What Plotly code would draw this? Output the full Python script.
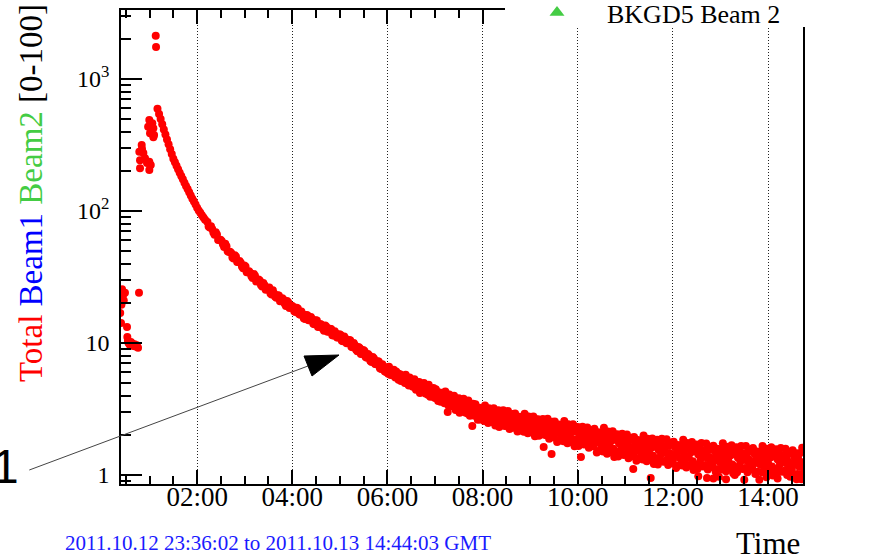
import numpy as np
import pandas as pd
import plotly.graph_objects as go

# ---------------- data (times in minutes after 2011-10-13 00:00 GMT) ----------------
DAY0 = "2011-10-13 00:00:00"
X_START = "2011-10-13 00:24:00"
X_END = "2011-10-13 14:44:03"

EARLY_MIN = [23.0, 24.0, 25.3, 26.5, 27.5, 29.0, 24.5, 31.6, 32.0, 32.8, 33.5, 35.0,
             36.5, 38.0, 39.5, 41.0, 42.5, 44.0, 45.5, 46.7]
EARLY_VAL = [16.9, 14.2, 25.5, 23.0, 21.0, 24.0, 19.5, 13.2, 11.1, 10.4, 10.0, 9.7,
             10.2, 9.9, 9.5, 9.8, 9.4, 9.6, 9.2, 24.0]

CLUSTER_MIN = [50.1, 47.1, 52.2, 48.0, 54.3, 59.7, 61.5, 48.0, 59.7, 50.5, 56.8,
               59.7, 63.5, 58.2, 64.8, 60.6, 65.7, 64.8]
CLUSTER_VAL = [316, 281, 275, 243, 251, 236, 223, 211, 205, 295, 231,
               489, 462, 435, 423, 388, 376, 362]

SPIKE_MIN = [67.8, 68.2]
SPIKE_VAL = [2130, 1750]

DECAY_A_START, DECAY_A_STEP = 70, 2
DECAY_A_VAL = [596, 543, 497, 454, 415, 380, 348, 320, 294, 270, 249, 234, 220, 207, 195,
               184, 174, 164, 155, 147, 139, 131, 124, 118, 112, 106, 101, 97, 93, 89.5, 86]

DECAY_B_START, DECAY_B_STEP = 133, 3
DECAY_B_VAL = [82.6, 75.1, 73.0, 66.2, 66.5, 60.5, 59.2, 53.4, 54.0, 48.9, 48.0, 43.6,
               45.1, 41.1, 40.5, 36.9, 38.0, 34.3, 33.9, 31.1, 32.3, 29.4, 29.8, 26.8,
               27.4, 25.5, 26.4, 23.3, 23.7, 22.0, 22.9, 20.9, 21.3, 19.1, 20.3, 18.7,
               18.8, 17.2, 18.3, 16.4, 16.6, 15.2, 16.2, 14.9, 15.2, 13.9, 14.8, 13.3,
               13.7, 12.4, 13.3, 12.25, 12.8, 11.4, 11.8, 11.0, 11.5, 10.3, 10.8, 10.1,
               10.5, 9.3, 9.6, 8.66, 9.18, 8.31, 8.72, 7.73, 8.03, 7.19, 7.62, 6.90,
               7.23, 6.35, 6.66, 6.03]

DECAY_C_START, DECAY_C_STEP = 134.5, 3
DECAY_C_VAL = [76.4, 76.6, 68.8, 69.1, 60.3, 60.7, 55.9, 56.4, 49.6, 49.2, 44.5, 46.2,
               41.1, 41.8, 38.0, 38.7, 34.3, 35.0, 32.0, 33.3, 29.3, 30.3, 27.5, 28.5,
               25.3, 26.0, 23.7, 25.1, 22.4, 23.0, 20.7, 21.8, 19.8, 20.8, 18.4, 19.2,
               17.4, 18.5, 16.6, 17.3, 15.4, 16.3, 14.9, 15.75, 14.0, 14.9, 13.2, 13.95,
               12.85, 13.6, 12.15, 12.85, 11.45, 12.3, 11.0, 11.65, 10.4, 11.2, 9.98, 10.55,
               9.36, 10.0, 8.89, 9.33, 8.27, 8.85, 7.84, 8.24, 7.30, 7.82, 6.93, 7.28,
               6.44, 6.90, 6.12]

TAIL_START, TAIL_STEP = 360, 1
TAIL_VAL = [
    6.30, 5.86, 6.61, 6.10, 5.72, 6.17, 5.93, 5.74, 6.27, 5.60,
    5.48, 6.09, 5.62, 5.90, 5.27, 5.55, 5.79, 5.16, 5.60, 5.38,
    5.58, 5.18, 4.98, 5.76, 5.31, 4.92, 5.30, 4.77, 5.47, 5.09,
    4.86, 5.14, 4.67, 5.02, 5.31, 4.64, 4.42, 5.07, 4.56, 4.90,
    5.07, 4.18, 4.69, 4.37, 4.90, 4.39, 4.98, 4.49, 4.14, 4.70,
    4.50, 4.06, 4.82, 4.30, 3.92, 4.46, 4.21, 4.02, 4.56, 3.89,
    3.84, 4.46, 3.98, 4.26, 3.63, 3.99, 4.22, 3.59, 4.03, 3.81,
    4.11, 3.70, 3.49, 4.30, 3.83, 3.51, 3.89, 3.36, 4.08, 3.68,
    3.52, 3.81, 3.32, 3.68, 3.99, 3.33, 3.11, 3.78, 3.26, 3.61,
    3.82, 2.96, 3.44, 3.15, 3.65, 3.20, 3.78, 3.30, 2.97, 3.50,
    3.36, 2.93, 3.67, 3.16, 2.81, 3.37, 3.13, 2.95, 3.47, 2.82,
    2.82, 3.43, 2.95, 3.23, 2.62, 3.00, 3.24, 2.63, 3.05, 2.83,
    3.17, 2.77, 2.57, 3.37, 2.90, 2.64, 3.02, 2.48, 3.20, 2.80,
    2.72, 3.02, 2.52, 2.88, 3.20, 2.59, 2.37, 3.05, 2.51, 2.88,
    3.10, 2.31, 2.75, 2.48, 2.94, 2.56, 3.10, 2.65, 2.35, 2.84,
    2.75, 2.35, 3.05, 2.57, 2.23, 2.80, 2.57, 2.40, 2.90, 2.28,
    2.33, 2.92, 2.45, 2.72, 2.14, 2.53, 2.76, 2.17, 2.58, 2.37,
    2.72, 2.33, 2.13, 2.91, 2.45, 2.22, 2.59, 2.07, 2.78, 2.38,
    2.30, 2.59, 2.11, 2.46, 2.78, 2.18, 1.97, 2.64, 2.11, 2.46,
    2.65, 1.98, 2.35, 2.12, 2.52, 2.20, 2.66, 2.28, 2.02, 2.44,
    2.37, 1.99, 2.67, 2.20, 1.88, 2.44, 2.21, 2.04, 2.53, 1.93,
    1.97, 2.54, 2.09, 2.35, 1.78, 2.18, 2.41, 1.83, 2.23, 2.02,
    2.37, 1.99, 1.80, 2.57, 2.11, 1.88, 2.24, 1.74, 2.42, 2.03,
    1.96, 2.25, 1.78, 2.12, 2.43, 1.86, 1.65, 2.31, 1.79, 2.13,
    2.31, 1.66, 2.02, 1.80, 2.18, 1.88, 2.32, 1.95, 1.70, 2.11,
    2.04, 1.71, 2.29, 1.88, 1.61, 2.08, 1.89, 1.75, 2.17, 1.65,
    1.66, 2.24, 1.78, 2.04, 1.48, 1.88, 2.11, 1.53, 1.93, 1.72,
    2.08, 1.69, 1.51, 2.28, 1.81, 1.59, 1.95, 1.45, 2.14, 1.74,
    1.67, 1.96, 1.49, 1.83, 2.15, 1.58, 1.37, 2.03, 1.51, 1.85,
    2.04, 1.38, 1.74, 1.51, 1.91, 1.59, 2.05, 1.67, 1.42, 1.83,
    1.77, 1.44, 2.03, 1.61, 1.34, 1.83, 1.63, 1.49, 1.92, 1.39,
    1.43, 1.94, 1.54, 1.76, 1.28, 1.64, 1.84, 1.33, 1.68, 1.49,
    1.81, 1.47, 1.31, 1.99, 1.58, 1.39, 1.71, 1.27, 1.88, 1.52,
    1.47, 1.73, 1.31, 1.61, 1.89, 1.40, 1.21, 1.80, 1.33, 1.64,
    1.85, 1.20, 1.55, 1.33, 1.71, 1.43, 1.88, 1.50, 1.26, 1.66,
    1.61, 1.28, 1.87, 1.45, 1.19, 1.67, 1.47, 1.33, 1.76, 1.23,
    1.29, 1.79, 1.39, 1.62, 1.13, 1.49, 1.69, 1.18, 1.53, 1.34,
    1.68, 1.33, 1.18, 1.85, 1.44, 1.26, 1.58, 1.14, 1.75, 1.39,
    1.35, 1.61, 1.19, 1.49, 1.78, 1.27, 1.09, 1.67, 1.20, 1.51,
    1.70, 1.11, 1.43, 1.22, 1.58, 1.32, 1.75, 1.39, 1.16, 1.54,
    1.49, 1.19, 1.73, 1.35, 1.10, 1.55, 1.37, 1.24, 1.64, 1.15,
    1.20, 1.67, 1.29, 1.51, 1.06, 1.40, 1.58, 1.11, 1.43, 1.26,
    1.57, 1.25, 1.10, 1.74, 1.35, 1.18, 1.48, 1.07, 1.64, 1.31,
    1.27, 1.52, 1.12, 1.41, 1.68, 1.20, 1.03, 1.59, 1.14, 1.44,
    1.62, 1.05, 1.35, 1.16, 1.50, 1.26, 1.66, 1.32, 1.11, 1.46,
    1.42, 1.13, 1.66, 1.29, 1.05, 1.49, 1.31, 1.18, 1.56, 1.10,
    1.15, 1.60, 1.25, 1.45, 1.02, 1.33, 1.51, 1.06, 1.37, 1.21,
    1.50, 1.20, 1.05, 1.66, 1.29, 1.14, 1.43, 1.03, 1.58, 1.26,
    1.23, 1.46, 1.08, 1.36, 1.62, 1.16, 0.99, 1.53, 1.10, 1.38,
    1.57, 1.02, 1.31, 1.13, 1.45, 1.21, 1.60, 1.27, 1.06, 1.41,
    1.36, 1.08, 1.58, 1.23, 1.00, 1.43, 1.26, 1.14, 1.50, 1.06,
    1.11, 1.54, 1.20, 1.39, 0.98, 1.28, 1.46, 1.02, 1.32, 1.16,
    1.46, 1.16, 1.02, 1.61, 1.25,
]

OUTLIER_MIN = [436, 467, 557, 567, 604, 670, 692, 752, 763, 771, 778, 787, 798, 810,
               829, 838, 852, 868, 876, 882]
OUTLIER_VAL = [3.0, 2.35, 1.63, 1.44, 1.37, 1.11, 0.95, 0.98, 0.95, 0.94, 0.97, 0.93, 1.0,
               0.92, 0.92, 0.96, 0.94, 0.97, 0.93, 0.93]

Y_TICKS = [1, 10, 100, 1000]
Y_TICK_TEXT = ["1", "10", "10<sup>2</sup>", "10<sup>3</sup>"]
Y_MINOR = [0.9, 2, 3, 4, 5, 6, 7, 8, 9, 20, 30, 40, 50, 60, 70, 80, 90,
           200, 300, 400, 500, 600, 700, 800, 900, 2000, 3000]

# ---------------- assemble ----------------
def grid(start, step, n):
    return [start + step * i for i in range(n)]

all_min = (EARLY_MIN + CLUSTER_MIN + SPIKE_MIN
           + grid(DECAY_A_START, DECAY_A_STEP, len(DECAY_A_VAL))
           + grid(DECAY_B_START, DECAY_B_STEP, len(DECAY_B_VAL))
           + grid(DECAY_C_START, DECAY_C_STEP, len(DECAY_C_VAL))
           + grid(TAIL_START, TAIL_STEP, len(TAIL_VAL))
           + OUTLIER_MIN)
all_val = (EARLY_VAL + CLUSTER_VAL + SPIKE_VAL + DECAY_A_VAL + DECAY_B_VAL
           + DECAY_C_VAL + TAIL_VAL + OUTLIER_VAL)

times = pd.Timestamp(DAY0) + pd.to_timedelta(np.asarray(all_min, dtype=float), unit="m")

SERIF = "Liberation Serif"

fig = go.Figure()
fig.add_trace(go.Scatter(
    x=times, y=all_val, mode="markers", showlegend=False,
    marker=dict(symbol="circle", size=8, color="#ff0000", line=dict(width=0)),
    name="Total",
))
fig.add_trace(go.Scatter(
    x=[None], y=[None], mode="markers", name="BKGD5 Beam 2",
    marker=dict(symbol="triangle-up", size=13, color="#44cc44"),
))

# plot area geometry: left 121, right 803, top 10, bottom 484 (px)
def px(xp):
    return (xp - 121) / 682.0

def py(yp):
    return (484 - yp) / 474.0

fig.update_layout(
    width=883, height=559,
    margin=dict(l=121, r=80, t=10, b=75, autoexpand=False),
    paper_bgcolor="white", plot_bgcolor="white",
    font=dict(family=SERIF, color="black"),
    legend=dict(x=px(507), xanchor="left", y=py(-11), yanchor="top",
                bgcolor="rgba(0,0,0,0)", borderwidth=0, itemwidth=90,
                font=dict(family=SERIF, size=26, color="black")),
    xaxis=dict(
        type="date", range=[X_START, X_END], tick0=DAY0, dtick=7200000,
        tickformat="%H:%M", ticks="inside", ticklen=14, tickwidth=1.5,
        tickcolor="black", showline=True, linecolor="black", linewidth=1.5,
        mirror="ticks", showgrid=True, gridcolor="#222222", gridwidth=1,
        griddash="1px,2px", zeroline=False, automargin=False,
        tickfont=dict(family=SERIF, size=27, color="black"),
        ticklabelstandoff=-12,
        minor=dict(dtick=1800000, tick0=DAY0, ticks="inside", ticklen=8,
                   tickwidth=1.5, tickcolor="black", showgrid=False),
    ),
    yaxis=dict(
        type="log", range=[-0.068, 3.523], tickmode="array",
        tickvals=Y_TICKS, ticktext=Y_TICK_TEXT, ticks="inside", ticklen=21,
        tickwidth=1.5, tickcolor="black", showline=True, linecolor="black",
        linewidth=1.5, mirror=True, showgrid=False, zeroline=False, automargin=False,
        tickfont=dict(family=SERIF, size=24, color="black"),
        ticklabelstandoff=5,
        minor=dict(tickmode="array", tickvals=Y_MINOR, ticks="inside",
                   ticklen=10, tickwidth=1.5, tickcolor="black", showgrid=False),
    ),
)

ytitle = ('<span style="color:#ff0000">Total</span> '
          '<span style="color:#0000ff">Beam1</span> '
          '<span style="color:#44cc44">Beam2</span> '
          '<span style="color:#000000">[0-100]</span>')

fig.add_annotation(text=ytitle, xref="paper", yref="paper", x=px(31), y=py(193),
                   xanchor="center", yanchor="middle", textangle=-90, showarrow=False,
                   font=dict(family=SERIF, size=33))
fig.add_annotation(text="2011.10.12 23:36:02 to 2011.10.13 14:44:03 GMT",
                   xref="paper", yref="paper", x=px(63), y=py(543),
                   xanchor="left", yanchor="middle", showarrow=False,
                   font=dict(family=SERIF, size=21, color="#1a1aff"))
fig.add_annotation(text="Time", xref="paper", yref="paper", x=px(802), y=py(543),
                   xanchor="right", yanchor="middle", showarrow=False,
                   font=dict(family=SERIF, size=31, color="black"))
fig.add_annotation(text="1", xref="paper", yref="paper", x=px(5), y=py(466),
                   xanchor="center", yanchor="middle", showarrow=False,
                   font=dict(family="Liberation Sans", size=48, color="black"))

# white cover behind the legend (hides frame top-right, as in the original)
fig.add_shape(type="rect", xref="paper", yref="paper", layer="above",
              x0=px(505), x1=px(890), y0=py(27), y1=py(-5),
              line=dict(width=0), fillcolor="white")
# arrow from the "1" label to the curve
fig.add_shape(type="line", xref="paper", yref="paper", layer="above",
              x0=px(29.3), y0=py(470), x1=px(308), y1=py(366),
              line=dict(color="#444444", width=1))
fig.add_shape(type="path", xref="paper", yref="paper", layer="above",
              path=f"M {px(339)} {py(355)} L {px(304)} {py(356)} L {px(312)} {py(376)} Z",
              fillcolor="black", line=dict(color="black", width=1))

fig.write_html("out.html", config={"displayModeBar": False},
               post_script="document.body.style.margin='0px';")
